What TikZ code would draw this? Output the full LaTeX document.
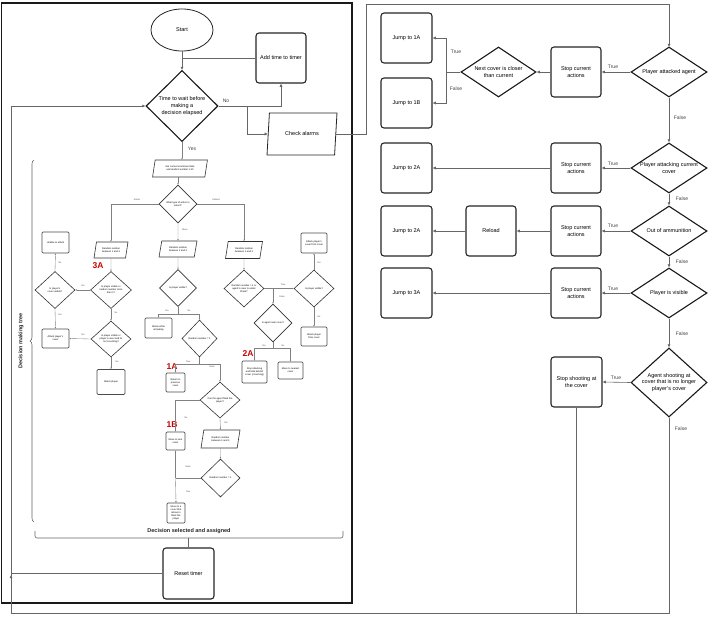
\documentclass[tikz,border=0pt]{standalone}
\usepackage{fontspec}
\setmainfont{Liberation Sans}
\usetikzlibrary{shapes.geometric,arrows.meta,decorations.pathreplacing,calc}
\begin{document}
\begin{tikzpicture}[x=1pt,y=-1pt,
 mf/.style={font=\fontsize{5.5}{6.6}\selectfont},
 box/.style={draw=black!85, line width=1.1pt, rounded corners=3pt, minimum width=50pt, minimum height=50pt, inner sep=0pt, align=center, mf},
 dia/.style={diamond, draw=black!90, line width=1.1pt, inner sep=0pt, minimum width=76pt, minimum height=50pt},
 dtext/.style={mf, align=center},
 ln/.style={draw=black!60, line width=0.6pt},
 arr/.style={ln, -{Latex[length=3.2pt,width=3.2pt]}},
 lbl/.style={font=\fontsize{5}{6}\selectfont, text=black!75},
 tf/.style={font=\fontsize{2.4}{2.9}\selectfont},
 tbox/.style={draw=black!70, line width=0.7pt, rounded corners=1.2pt, inner sep=0pt, align=center, tf},
 tdia/.style={diamond, draw=black!80, line width=0.6pt, inner sep=0pt},
 tdt/.style={tf, align=center},
 tpara/.style={trapezium, trapezium left angle=72, trapezium right angle=108, trapezium stretches=true, draw=black!80, line width=0.6pt, inner sep=0pt, align=center, tf},
 tln/.style={draw=black!50, line width=0.35pt},
 tarr/.style={tln, -{Latex[length=1.6pt,width=1.6pt]}},
 tlbl/.style={font=\fontsize{2.2}{2.6}\selectfont, text=black!70},
 redlab/.style={font=\bfseries\fontsize{8.5}{9}\selectfont, text=red!80!black},
 bfl/.style={font=\bfseries\fontsize{5.5}{6.5}\selectfont, text=black!85},
]
\useasboundingbox (0,0) rectangle (712,624);
\fill[white] (0,0) rectangle (712,624);

% ---------- left frame ----------
\draw[black!90, line width=1.2pt] (1.5,3) rectangle (352,603);

% ---------- main left flow ----------
\node[ellipse, draw=black!85, line width=0.8pt, minimum width=62pt, minimum height=42pt, mf] (start) at (182,30) {Start};
\node[box] (timer) at (281,58) {Add time to timer};
\node[dia, minimum width=72pt, minimum height=71pt, label={[dtext]center:Time to wait before\\making a\\decision elapsed}] (wait) at (182,106) {};
\node[trapezium, trapezium left angle=73, trapezium right angle=107, trapezium stretches=true, draw=black!85, line width=0.8pt, minimum width=70pt, minimum height=42pt, inner sep=0pt, mf] (alarms) at (302,134) {Check alarms};
\node[box, minimum width=51pt, minimum height=51pt] (reset) at (188.5,573.5) {Reset timer};

\draw[arr] (start.south) -- (wait.north);
\draw[ln] (timer.west) -- (timer.west -| start.south);
\coordinate (nsp) at (247,106);
\draw[arr] (wait.east) -| (timer.south);
\draw[arr] (nsp) |- (alarms.west);
\node[lbl] (nolab) at (226,101) {No};
\coordinate (tr) at (366,4);
\draw[arr] (alarms.east) -| (tr) -| (669,47);

% ---------- right side ----------
\node[dia, label={[dtext]center:Player attacked agent}] (pa) at (669,72) {};
\node[box] (s1) at (576,72) {Stop current\\actions};
\node[dia, minimum width=75pt, label={[dtext]center:Next cover is closer\\than current}] (nc) at (498.5,72) {};
\node[box, minimum width=51pt] (j1a) at (406.5,38) {Jump to 1A};
\node[box, minimum width=51pt] (j1b) at (406.5,103) {Jump to 1B};

\node[dia, label={[dtext]center:Player attacking current\\cover}] (pc) at (669,168) {};
\node[box] (s2) at (576,168) {Stop current\\actions};
\node[box, minimum width=51pt] (j2a) at (406.5,168) {Jump to 2A};

\node[dia, label={[dtext]center:Out of ammunition}] (oa) at (669,231) {};
\node[box] (s3) at (576,231) {Stop current\\actions};
\node[box] (rl) at (491,231) {Reload};
\node[box, minimum width=51pt] (j2b) at (406.5,231) {Jump to 2A};

\node[dia, label={[dtext]center:Player is visible}] (pv) at (669,293) {};
\node[box] (s4) at (576,293) {Stop current\\actions};
\node[box, minimum width=51pt] (j3a) at (406.5,293) {Jump to 3A};

\node[dia, minimum height=69pt, label={[dtext]center:Agent shooting at\\cover that is no longer\\player's cover}] (as) at (669,382.5) {};
\node[box, minimum width=51pt] (ss) at (576.5,382) {Stop shooting at\\the cover};

\draw[arr] (pa.west) -- (s1.east);
\node[lbl] (t1) at (613,67) {True};
\draw[arr] (s1.west) -- (nc.east);
\coordinate (ncs) at (446,72);
\draw[ln] (nc.west) -- (ncs);
\draw[arr] (ncs) |- (j1a.east);
\draw[arr] (ncs) |- (j1b.east);
\node[lbl] (t2) at (456,52) {True};
\node[lbl] (f2) at (456,89) {False};

\draw[arr] (pa.south) -- (pc.north);
\node[lbl] (f1) at (680,118) {False};
\draw[arr] (pc.west) -- (s2.east);
\node[lbl] (t3) at (613,164) {True};
\draw[arr] (s2.west) -- (j2a.east);

\draw[arr] (pc.south) -- (oa.north);
\node[lbl] (f3) at (682,199) {False};
\draw[arr] (oa.west) -- (s3.east);
\node[lbl] (t4) at (613,226) {True};
\draw[arr] (s3.west) -- (rl.east);
\draw[arr] (rl.west) -- (j2b.east);

\draw[arr] (oa.south) -- (pv.north);
\node[lbl] (f4) at (682,262) {False};
\draw[arr] (pv.west) -- (s4.east);
\node[lbl] (t5) at (613,289) {True};
\draw[arr] (s4.west) -- (j3a.east);

\draw[arr] (pv.south) -- (as.north);
\node[lbl] (f5) at (682,334) {False};
\draw[arr] (as.west) -- (ss.east);
\node[lbl] (t6) at (616,378) {True};
\node[lbl] (f6) at (681,429) {False};

% loop back
\coordinate (bl) at (11,613);
\draw[arr] (as.south) |- (bl) |- (wait.west);
\draw[ln] (reset.west) -- (reset.west -| bl);
\coordinate (upa) at (11,582);
\coordinate (upb) at (11,575);
\draw[arr] (upa) -- (upb);
\draw[ln] (ss.south) -- (ss.south |- bl);

% ---------- brackets ----------
\draw[ln, decorate, decoration={brace, amplitude=4pt}] (34,522) -- (34,160);
\node[rotate=90, bfl] (dmt) at (21,341) {Decision making tree};
\coordinate (bk1) at (35,531);
\coordinate (bk2) at (343,531);
\coordinate (bkm) at (188.5,538);
\draw[ln, rounded corners=2pt] (bk1) -- (35,538) -- (343,538) -- (bk2);
\node[bfl] (dsa) at (189,531.5) {Decision selected and assigned};
\draw[ln] (bkm) -- (reset.north);

% ---------- decision tree ----------
\node[tpara, minimum width=55pt, minimum height=17pt] (tp0) at (180,168.5) {Get current emotional state\\and random number 1-10};
\node[tdia, minimum width=38pt, minimum height=38pt, label={[tdt]center:What type of action to\\select?}] (td0) at (178,204) {};
\draw[tarr] (wait.south) -- (wait.south |- tp0.north);
\node[lbl] (yeslab) at (192,149) {Yes};
\draw[tarr] (tp0.south -| td0.north) -- (td0.north);

% Attack branch
\node[tpara, minimum width=34pt, minimum height=16pt] (tp1) at (111,250) {Random number\\between 1 and 3};
\node[tdia, minimum width=41pt, minimum height=37pt, label={[tdt]center:Is player visible or\\random number more\\than 1?}] (td1) at (111,290) {};
\node[tdia, minimum width=40pt, minimum height=37pt, label={[tdt]center:Is player's\\cover visible?}] (td2) at (55,290) {};
\node[tbox, minimum width=27pt, minimum height=21pt] (tb1) at (55.5,242.5) {Unable to attack};
\node[tbox, minimum width=27pt, minimum height=19pt] (tb2) at (55.5,338.5) {Attack player's\\cover};
\node[tdia, minimum width=40pt, minimum height=36pt, label={[tdt]center:Is player visible or\\player's cover and its\\not crouching?}] (td3) at (111,339) {};
\node[tbox, minimum width=28pt, minimum height=25pt] (tb3) at (111,382) {Attack player};
\node[redlab] (l3a) at (98,266) {3A};

\draw[tarr] (td0.west) -| (tp1.north);
\node[tlbl] (attl) at (137,200) {Attack};
\draw[tarr] (tp1.south) -- (td1.north);
\draw[tarr] (td1.west) -- (td2.east);
\node[tlbl] (y1) at (83,286) {Yes};
\draw[tarr] (td2.north) -- (tb1.south);
\node[tlbl] (n1) at (60,263) {No};
\draw[tarr] (td2.south) -- (tb2.north);
\node[tlbl] (y2) at (60,315) {Yes};
\draw[tarr] (td1.south) -- (td3.north);
\node[tlbl] (n2) at (116,313) {No};
\draw[tarr] (td3.west) -- (tb2.east);
\node[tlbl] (y3) at (83,335) {Yes};
\draw[tarr] (td3.south) -- (tb3.north);
\node[tlbl] (y4) at (117,362) {Yes};

% Move branch
\node[tpara, minimum width=38pt, minimum height=16pt] (tp2) at (178,249) {Random number\\between 1 and 3};
\node[tdia, minimum width=37pt, minimum height=37pt, label={[tdt]center:Is player visible?}] (td4) at (178,288) {};
\node[tbox, minimum width=27pt, minimum height=20pt] (tb4) at (158.5,328) {Attack while\\retreating};
\node[tdia, minimum width=35pt, minimum height=37pt, label={[tdt]center:Random number = 1}] (td5) at (199.5,338.5) {};
\node[tbox, minimum width=19pt, minimum height=19pt] (tb5) at (175.5,382.5) {Return to\\previous\\cover};
\node[tdia, minimum width=40pt, minimum height=36pt, label={[tdt]center:Can the agent flank the\\player?}] (td6) at (220,400) {};
\node[tbox, minimum width=19pt, minimum height=18pt] (tb6) at (175.5,441) {Move to next\\cover};
\node[tpara, minimum width=39pt, minimum height=18pt] (tp3) at (220.5,439) {Random number\\between 1 and 3};
\node[tdia, minimum width=39pt, minimum height=38pt, label={[tdt]center:Random number = 1}] (td7) at (220.5,478) {};
\node[tbox, minimum width=18pt, minimum height=20pt] (tb7) at (176,513) {Move to a\\cover that\\allows to\\flank the\\player};
\node[redlab] (l1a) at (172,367) {1A};
\node[redlab] (l1b) at (172,425) {1B};

\draw[tarr] (td0.south) -- (tp2.north);
\node[tlbl] (movl) at (185,230) {Move};
\draw[tarr] (tp2.south) -- (td4.north);
\coordinate (m1) at (178,314);
\draw[tln] (td4.south) -- (m1);
\draw[tarr] (m1) -| (tb4.north);
\draw[tarr] (m1) -| (td5.north);
\node[tlbl] (y5) at (167,311) {Yes};
\node[tlbl] (n5) at (189,311) {No};
\coordinate (m2) at (199.5,364);
\draw[tln] (td5.south) -- (m2);
\draw[tarr] (m2) -| (tb5.north);
\draw[tarr] (m2) -| (td6.north);
\node[tlbl] (t7) at (188,362) {True};
\node[tlbl] (f7) at (212,367) {False};
\draw[tarr] (td6.west) -| (tb6.north);
\node[tlbl] (n6) at (186,418) {No};
\draw[tarr] (td6.south) -- (tp3.north);
\node[tlbl] (y6) at (226,423) {Yes};
\draw[tarr] (tp3.south) -- (td7.north);
\coordinate (m3) at (175.5,478);
\draw[tln] (td7.west) -- (m3);
\draw[tarr] (m3) -- (tb6.south);
\draw[tarr] (m3) -- (tb7.north);
\node[tlbl] (f8) at (188,467) {False};
\node[tlbl] (t8) at (188,492) {True};

% Defend branch
\node[tpara, minimum width=37pt, minimum height=17pt] (tp4) at (244,250) {Random number\\between 1 and 3};
\node[tdia, minimum width=40pt, minimum height=37pt, label={[tdt]center:Random number > 1 or\\agent's cover is under\\threat?}] (td8) at (244,288.5) {};
\node[tdia, minimum width=40pt, minimum height=37pt, label={[tdt]center:Is player visible?}] (td9) at (314,288.5) {};
\node[tbox, minimum width=26pt, minimum height=20pt] (tb8) at (314,243) {Attack player's\\cover from cover};
\node[tbox, minimum width=26pt, minimum height=19pt] (tb9) at (314,336.5) {Attack player\\from cover};
\node[tdia, minimum width=38pt, minimum height=38pt, label={[tdt]center:Is agent near cover?}] (td10) at (273,323) {};
\node[tbox, minimum width=25pt, minimum height=22pt] (tb10) at (254.5,372) {Stop attacking\\and hide behind\\cover (crouching)};
\node[tbox, minimum width=25pt, minimum height=17pt] (tb11) at (290.5,370.5) {Move to nearest\\cover};
\node[redlab] (l2a) at (248,354) {2A};

\draw[tarr] (td0.east) -| (tp4.north);
\node[tlbl] (defl) at (216,200) {Defend};
\draw[tarr] (tp4.south) -- (td8.north);
\draw[tarr] (td8.east) -- (td9.west);
\node[tlbl] (t9) at (283,285) {True};
\coordinate (m4) at (273,288.5);
\draw[tarr] (m4) -- (td10.north);
\node[tlbl] (f9) at (282,297) {False};
\draw[tarr] (td9.north) -- (tb8.south);
\node[tlbl] (y9) at (319,263) {Yes};
\draw[tarr] (td9.south) -- (tb9.north);
\node[tlbl] (n9) at (319,317) {No};
\coordinate (m5) at (273,348);
\draw[tln] (td10.south) -- (m5);
\draw[tarr] (m5) -| (tb10.north);
\draw[tarr] (m5) -| (tb11.north);
\node[tlbl] (y10) at (264,346) {Yes};
\node[tlbl] (n10) at (283,346) {No};
\end{tikzpicture}
\end{document}
